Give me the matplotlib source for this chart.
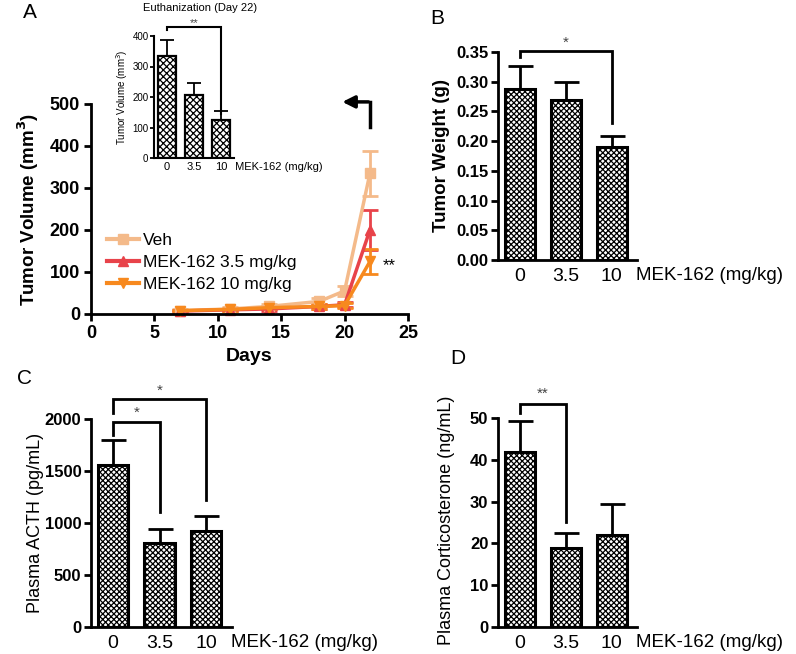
import matplotlib
matplotlib.use("Agg")
import matplotlib.pyplot as plt
from matplotlib.lines import Line2D
from matplotlib.transforms import blended_transform_factory
import numpy as np

plt.rcParams['font.family'] = ['Liberation Sans', 'DejaVu Sans']
plt.rcParams['hatch.linewidth'] = 0.9

# ---------------- data ----------------
days = [7, 11, 14, 18, 20, 22]
veh = [8, 12, 18, 30, 55, 335]
veh_err = [3, 4, 5, 8, 12, 53]
mek35 = [7, 10, 12, 18, 22, 200]
mek35_err = [2, 3, 4, 5, 6, 48]
mek10 = [8, 11, 15, 18, 20, 125]
mek10_err = [2, 3, 4, 5, 5, 30]
series_labels = ["Veh", "MEK-162 3.5 mg/kg", "MEK-162 10 mg/kg"]

doses = ["0", "3.5", "10"]
inset_vol = [335, 205, 125]
inset_vol_err = [52, 42, 28]
weight = [0.287, 0.270, 0.190]
weight_err = [0.040, 0.029, 0.019]
acth = [1560, 810, 920]
acth_err = [240, 130, 150]
cort = [41.8, 19.0, 22.0]
cort_err = [7.5, 3.5, 7.4]

W, H = 796, 654
fig = plt.figure(figsize=(W / 100, H / 100), dpi=100)

def rect(l, r, b, t):
    return [l / W, 1 - b / H, (r - l) / W, (b - t) / H]

def style(ax, lw=2.0):
    for s in ['top', 'right']:
        ax.spines[s].set_visible(False)
    for s in ['left', 'bottom']:
        ax.spines[s].set_linewidth(lw)

def bracket(ax, x0, x1, yb, yl, yr, txt, ty, fs=11, lw=2.0):
    ax.plot([x0, x0, x1, x1], [yl, yb, yb, yr], color='k', lw=lw, clip_on=False,
            solid_joinstyle='miter')
    ax.text((x0 + x1) / 2, ty, txt, ha='center', va='center', fontsize=fs, color='#444444')

def bar_panel(rc, vals, errs, ylim, yticks, yfmt, ylabel, ylabel_fs=13.5, ylabel_w='bold'):
    ax = fig.add_axes(rc)
    x = np.arange(len(vals))
    ax.bar(x, vals, width=0.65, color='white', edgecolor='black', hatch='xxxxxx',
           linewidth=2.2, zorder=2)
    ax.errorbar(x, vals, yerr=[np.zeros(len(errs)), errs], fmt='none', ecolor='black',
                elinewidth=2.0, capsize=9, capthick=2.0, zorder=3)
    style(ax)
    ax.set_xlim(-0.47, 2.55)
    ax.set_ylim(*ylim)
    ax.set_yticks(yticks)
    ax.set_yticklabels([yfmt.format(v) for v in yticks], fontweight='bold', fontsize=12)
    ax.set_xticks(x)
    ax.set_xticklabels(doses, fontsize=14)
    ax.tick_params(axis='x', length=0, pad=6)
    ax.tick_params(axis='y', width=2, length=5, pad=2)
    ax.set_ylabel(ylabel, fontweight=ylabel_w, fontsize=ylabel_fs)
    tr = blended_transform_factory(ax.transAxes, ax.transData)
    ax.text(0.995, -0.075 * ylim[1], "MEK-162 (mg/kg)", fontsize=13.5, ha='left', va='center',
            transform=tr, clip_on=False)
    return ax

# ---------------- Panel A ----------------
axA = fig.add_axes(rect(91, 408, 314, 104))
colors = ['#F4BA8A', '#E8434A', '#F7891E']
markers = ['s', '^', 'v']
handles = []
for ys, es, c, m, lab in zip([veh, mek35, mek10], [veh_err, mek35_err, mek10_err], colors, markers, series_labels):
    axA.errorbar(days, ys, yerr=es, color=c, marker=m, markersize=7, lw=2.5, capsize=6,
                 capthick=2, elinewidth=2, clip_on=False)
    handles.append(Line2D([], [], color=c, marker=m, markersize=7, lw=3, label=lab))
style(axA)
axA.set_xlim(0, 25)
axA.set_ylim(0, 500)
axA.set_xticks([0, 5, 10, 15, 20, 25])
axA.set_yticks([0, 100, 200, 300, 400, 500])
for lab in axA.get_xticklabels() + axA.get_yticklabels():
    lab.set_fontweight('bold')
    lab.set_fontsize(13)
axA.tick_params(width=2, length=5, pad=3)
axA.set_xlabel("Days", fontweight='bold', fontsize=14)
axA.set_ylabel("Tumor Volume (mm$^{\\mathbf{3}}$)", fontweight='bold', fontsize=13.5, labelpad=6)
axA.legend(handles=handles, loc='lower left', bbox_to_anchor=(0.03, 0.07), frameon=False, fontsize=12.5,
           handlelength=1.8, handletextpad=0.25, labelspacing=0.4, borderaxespad=0)
axA.text(23.0, 115, "**", fontsize=12, ha='left', va='center')
axA.plot([22, 22], [445, 505], color='k', lw=2.5, clip_on=False)
axA.annotate('', xy=(19.6, 505), xytext=(22.1, 505),
             arrowprops=dict(arrowstyle='-|>', lw=2.5, color='k', mutation_scale=18),
             annotation_clip=False)
fig.text(23 / W, 1 - 12 / H, "A", fontsize=15, ha='left', va='center')

# inset
axI = fig.add_axes(rect(154, 234, 158, 36))
xi = np.arange(3)
axI.bar(xi, inset_vol, width=0.67, color='white', edgecolor='black', hatch='xxxxx',
        linewidth=1.6, zorder=2)
axI.errorbar(xi, inset_vol, yerr=[np.zeros(3), inset_vol_err], fmt='none', ecolor='black',
             elinewidth=1.3, capsize=5, capthick=1.3)
style(axI, lw=1.5)
axI.set_xlim(-0.48, 2.48)
axI.set_ylim(0, 400)
axI.set_yticks([0, 100, 200, 300, 400])
axI.set_yticklabels(["0", "100", "200", "300", "400"], fontsize=7)
axI.set_xticks(xi)
axI.set_xticklabels(doses, fontsize=8)
axI.tick_params(axis='x', length=0, pad=3)
axI.tick_params(axis='y', width=1.3, length=3, pad=1)
axI.set_ylabel("Tumor Volume (mm$^3$)", fontsize=7, labelpad=2)
axI.text(2.4, -28, " MEK-162 (mg/kg)", fontsize=8, ha='left', va='center', clip_on=False)
fig.text(200 / W, 1 - 8 / H, "Euthanization (Day 22)", fontsize=8, ha='center', va='center')
bracket(axI, 0, 2, 428, 420, 145, "**", 442, fs=8, lw=1.5)

# ---------------- Panel B ----------------
axB = bar_panel(rect(498, 637, 260, 52), weight, weight_err, (0, 0.35),
                [0, 0.05, 0.10, 0.15, 0.20, 0.25, 0.30, 0.35], "{:.2f}", "Tumor Weight (g)")
bracket(axB, 0, 2, 0.352, 0.342, 0.230, "*", 0.366)
fig.text(430 / W, 1 - 19 / H, "B", fontsize=15, ha='left', va='center')

# ---------------- Panel C ----------------
axC = bar_panel(rect(91, 232, 627, 419), acth, acth_err, (0, 2000),
                [0, 500, 1000, 1500, 2000], "{:.0f}", "Plasma ACTH (pg/mL)",
                ylabel_fs=13, ylabel_w='normal')
axC.yaxis.set_label_coords(-0.33, 0.5)
bracket(axC, 0, 2, 2190, 2055, 1221, "*", 2270)
bracket(axC, 0, 1, 1974, 1846, 1109, "*", 2060)
fig.text(17 / W, 1 - 378 / H, "C", fontsize=15, ha='left', va='center')

# ---------------- Panel D ----------------
axD = bar_panel(rect(498, 637, 627, 418), cort, cort_err, (0, 50),
                [0, 10, 20, 30, 40, 50], "{:.0f}", "Plasma Corticosterone (ng/mL)",
                ylabel_fs=13, ylabel_w='normal')
axD.yaxis.set_label_coords(-0.31, 0.51)
bracket(axD, 0, 1, 53.3, 51.2, 25.2, "**", 55.8)
fig.text(450 / W, 1 - 358 / H, "D", fontsize=15, ha='left', va='center')

fig.savefig("out.png", dpi=100, facecolor='white')
